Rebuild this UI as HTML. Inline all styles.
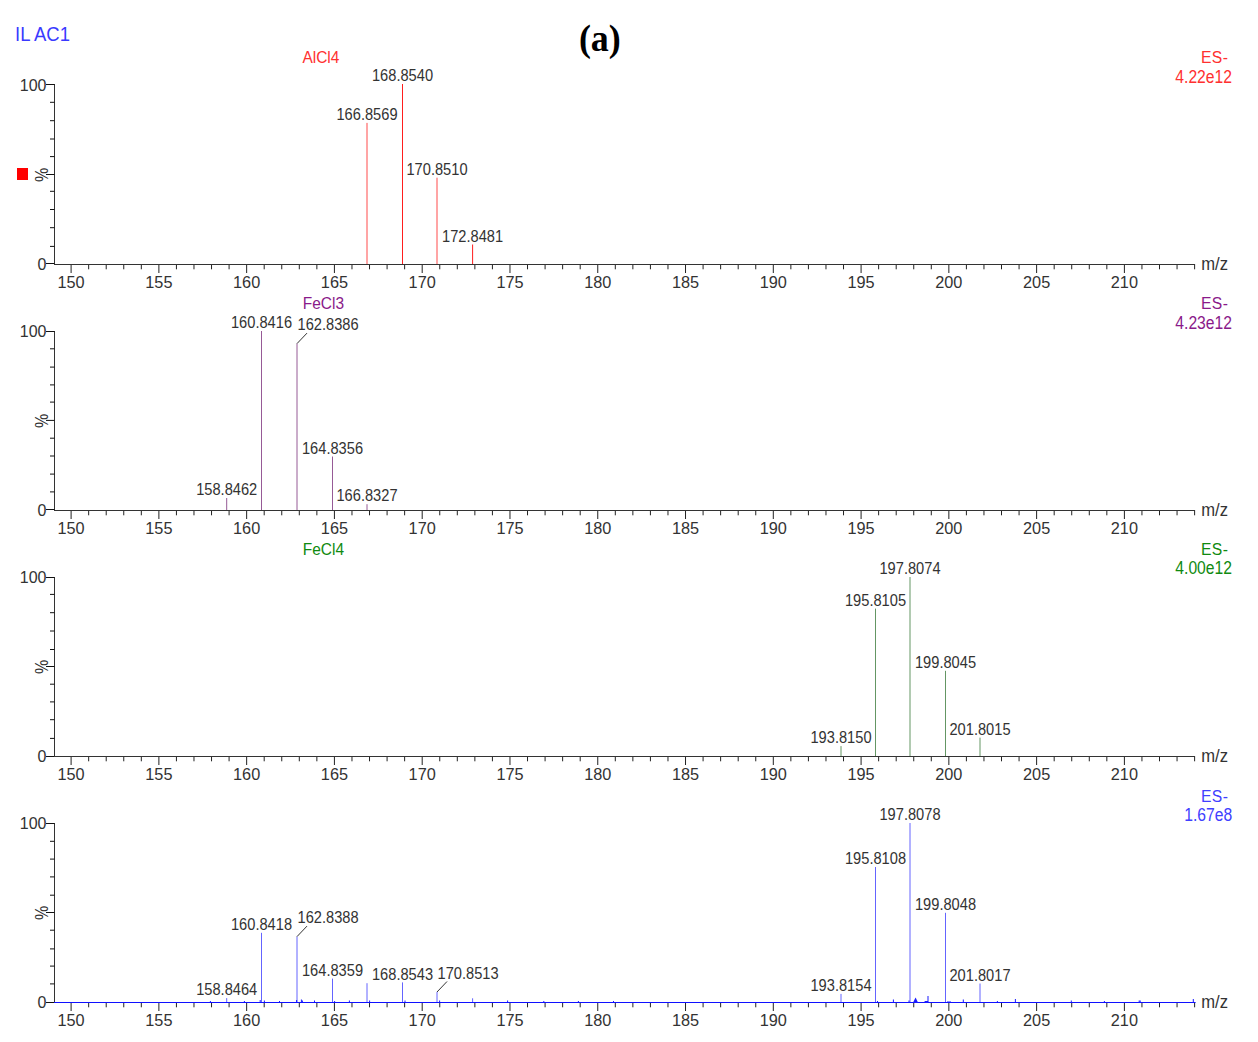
<!DOCTYPE html>
<html><head><meta charset="utf-8"><style>
html,body{margin:0;padding:0;background:#fff;width:1258px;height:1042px;overflow:hidden}
svg{display:block}
text{font-family:"Liberation Sans",sans-serif}
</style></head><body>
<svg width="1258" height="1042" viewBox="0 0 1258 1042">
<rect width="1258" height="1042" fill="#fff"/>
<g font-family="Liberation Sans, sans-serif">
<text transform="translate(15.10,40.50) scale(1.0,1.09)" font-size="18.5" fill="#3a3aff" text-anchor="start" >IL AC1</text>
<text transform="translate(578.9,50.5) scale(0.985,1.06)" style="font-family:'Liberation Serif',serif" font-weight="bold" font-size="36.5" fill="#000">(a)</text>
<rect x="17" y="168" width="11" height="12" fill="#ff0000"/>
<line x1="54.5" y1="84.0" x2="54.5" y2="265.0" stroke="#333" stroke-width="1"/>
<line x1="46" y1="84.50" x2="54.5" y2="84.50" stroke="#111" stroke-width="1"/>
<line x1="50" y1="102.30" x2="54.5" y2="102.30" stroke="#111" stroke-width="1"/>
<line x1="50" y1="120.70" x2="54.5" y2="120.70" stroke="#111" stroke-width="1"/>
<line x1="50" y1="139.00" x2="54.5" y2="139.00" stroke="#111" stroke-width="1"/>
<line x1="50" y1="156.60" x2="54.5" y2="156.60" stroke="#111" stroke-width="1"/>
<line x1="46" y1="174.50" x2="54.5" y2="174.50" stroke="#111" stroke-width="1"/>
<line x1="50" y1="191.30" x2="54.5" y2="191.30" stroke="#111" stroke-width="1"/>
<line x1="50" y1="209.50" x2="54.5" y2="209.50" stroke="#111" stroke-width="1"/>
<line x1="50" y1="227.70" x2="54.5" y2="227.70" stroke="#111" stroke-width="1"/>
<line x1="50" y1="246.40" x2="54.5" y2="246.40" stroke="#111" stroke-width="1"/>
<line x1="46" y1="263.50" x2="54.5" y2="263.50" stroke="#111" stroke-width="1"/>
<line x1="54.0" y1="264.5" x2="1195.12" y2="264.5" stroke="#333" stroke-width="1"/>
<line x1="71.10" y1="265.0" x2="71.10" y2="273.0" stroke="#222" stroke-width="1"/>
<text x="71.10" y="288.10" font-size="16.3" fill="#333333" text-anchor="middle" >150</text>
<line x1="88.66" y1="265.0" x2="88.66" y2="269.3" stroke="#222" stroke-width="1"/>
<line x1="106.21" y1="265.0" x2="106.21" y2="269.3" stroke="#222" stroke-width="1"/>
<line x1="123.76" y1="265.0" x2="123.76" y2="269.3" stroke="#222" stroke-width="1"/>
<line x1="141.32" y1="265.0" x2="141.32" y2="269.3" stroke="#222" stroke-width="1"/>
<line x1="158.88" y1="265.0" x2="158.88" y2="273.0" stroke="#222" stroke-width="1"/>
<text x="158.88" y="288.10" font-size="16.3" fill="#333333" text-anchor="middle" >155</text>
<line x1="176.43" y1="265.0" x2="176.43" y2="269.3" stroke="#222" stroke-width="1"/>
<line x1="193.98" y1="265.0" x2="193.98" y2="269.3" stroke="#222" stroke-width="1"/>
<line x1="211.54" y1="265.0" x2="211.54" y2="269.3" stroke="#222" stroke-width="1"/>
<line x1="229.09" y1="265.0" x2="229.09" y2="269.3" stroke="#222" stroke-width="1"/>
<line x1="246.65" y1="265.0" x2="246.65" y2="273.0" stroke="#222" stroke-width="1"/>
<text x="246.65" y="288.10" font-size="16.3" fill="#333333" text-anchor="middle" >160</text>
<line x1="264.20" y1="265.0" x2="264.20" y2="269.3" stroke="#222" stroke-width="1"/>
<line x1="281.76" y1="265.0" x2="281.76" y2="269.3" stroke="#222" stroke-width="1"/>
<line x1="299.31" y1="265.0" x2="299.31" y2="269.3" stroke="#222" stroke-width="1"/>
<line x1="316.87" y1="265.0" x2="316.87" y2="269.3" stroke="#222" stroke-width="1"/>
<line x1="334.42" y1="265.0" x2="334.42" y2="273.0" stroke="#222" stroke-width="1"/>
<text x="334.42" y="288.10" font-size="16.3" fill="#333333" text-anchor="middle" >165</text>
<line x1="351.98" y1="265.0" x2="351.98" y2="269.3" stroke="#222" stroke-width="1"/>
<line x1="369.53" y1="265.0" x2="369.53" y2="269.3" stroke="#222" stroke-width="1"/>
<line x1="387.09" y1="265.0" x2="387.09" y2="269.3" stroke="#222" stroke-width="1"/>
<line x1="404.64" y1="265.0" x2="404.64" y2="269.3" stroke="#222" stroke-width="1"/>
<line x1="422.20" y1="265.0" x2="422.20" y2="273.0" stroke="#222" stroke-width="1"/>
<text x="422.20" y="288.10" font-size="16.3" fill="#333333" text-anchor="middle" >170</text>
<line x1="439.75" y1="265.0" x2="439.75" y2="269.3" stroke="#222" stroke-width="1"/>
<line x1="457.31" y1="265.0" x2="457.31" y2="269.3" stroke="#222" stroke-width="1"/>
<line x1="474.87" y1="265.0" x2="474.87" y2="269.3" stroke="#222" stroke-width="1"/>
<line x1="492.42" y1="265.0" x2="492.42" y2="269.3" stroke="#222" stroke-width="1"/>
<line x1="509.98" y1="265.0" x2="509.98" y2="273.0" stroke="#222" stroke-width="1"/>
<text x="509.98" y="288.10" font-size="16.3" fill="#333333" text-anchor="middle" >175</text>
<line x1="527.53" y1="265.0" x2="527.53" y2="269.3" stroke="#222" stroke-width="1"/>
<line x1="545.09" y1="265.0" x2="545.09" y2="269.3" stroke="#222" stroke-width="1"/>
<line x1="562.64" y1="265.0" x2="562.64" y2="269.3" stroke="#222" stroke-width="1"/>
<line x1="580.19" y1="265.0" x2="580.19" y2="269.3" stroke="#222" stroke-width="1"/>
<line x1="597.75" y1="265.0" x2="597.75" y2="273.0" stroke="#222" stroke-width="1"/>
<text x="597.75" y="288.10" font-size="16.3" fill="#333333" text-anchor="middle" >180</text>
<line x1="615.31" y1="265.0" x2="615.31" y2="269.3" stroke="#222" stroke-width="1"/>
<line x1="632.86" y1="265.0" x2="632.86" y2="269.3" stroke="#222" stroke-width="1"/>
<line x1="650.41" y1="265.0" x2="650.41" y2="269.3" stroke="#222" stroke-width="1"/>
<line x1="667.97" y1="265.0" x2="667.97" y2="269.3" stroke="#222" stroke-width="1"/>
<line x1="685.52" y1="265.0" x2="685.52" y2="273.0" stroke="#222" stroke-width="1"/>
<text x="685.52" y="288.10" font-size="16.3" fill="#333333" text-anchor="middle" >185</text>
<line x1="703.08" y1="265.0" x2="703.08" y2="269.3" stroke="#222" stroke-width="1"/>
<line x1="720.63" y1="265.0" x2="720.63" y2="269.3" stroke="#222" stroke-width="1"/>
<line x1="738.19" y1="265.0" x2="738.19" y2="269.3" stroke="#222" stroke-width="1"/>
<line x1="755.75" y1="265.0" x2="755.75" y2="269.3" stroke="#222" stroke-width="1"/>
<line x1="773.30" y1="265.0" x2="773.30" y2="273.0" stroke="#222" stroke-width="1"/>
<text x="773.30" y="288.10" font-size="16.3" fill="#333333" text-anchor="middle" >190</text>
<line x1="790.86" y1="265.0" x2="790.86" y2="269.3" stroke="#222" stroke-width="1"/>
<line x1="808.41" y1="265.0" x2="808.41" y2="269.3" stroke="#222" stroke-width="1"/>
<line x1="825.97" y1="265.0" x2="825.97" y2="269.3" stroke="#222" stroke-width="1"/>
<line x1="843.52" y1="265.0" x2="843.52" y2="269.3" stroke="#222" stroke-width="1"/>
<line x1="861.08" y1="265.0" x2="861.08" y2="273.0" stroke="#222" stroke-width="1"/>
<text x="861.08" y="288.10" font-size="16.3" fill="#333333" text-anchor="middle" >195</text>
<line x1="878.63" y1="265.0" x2="878.63" y2="269.3" stroke="#222" stroke-width="1"/>
<line x1="896.19" y1="265.0" x2="896.19" y2="269.3" stroke="#222" stroke-width="1"/>
<line x1="913.74" y1="265.0" x2="913.74" y2="269.3" stroke="#222" stroke-width="1"/>
<line x1="931.29" y1="265.0" x2="931.29" y2="269.3" stroke="#222" stroke-width="1"/>
<line x1="948.85" y1="265.0" x2="948.85" y2="273.0" stroke="#222" stroke-width="1"/>
<text x="948.85" y="288.10" font-size="16.3" fill="#333333" text-anchor="middle" >200</text>
<line x1="966.40" y1="265.0" x2="966.40" y2="269.3" stroke="#222" stroke-width="1"/>
<line x1="983.96" y1="265.0" x2="983.96" y2="269.3" stroke="#222" stroke-width="1"/>
<line x1="1001.51" y1="265.0" x2="1001.51" y2="269.3" stroke="#222" stroke-width="1"/>
<line x1="1019.07" y1="265.0" x2="1019.07" y2="269.3" stroke="#222" stroke-width="1"/>
<line x1="1036.62" y1="265.0" x2="1036.62" y2="273.0" stroke="#222" stroke-width="1"/>
<text x="1036.62" y="288.10" font-size="16.3" fill="#333333" text-anchor="middle" >205</text>
<line x1="1054.18" y1="265.0" x2="1054.18" y2="269.3" stroke="#222" stroke-width="1"/>
<line x1="1071.73" y1="265.0" x2="1071.73" y2="269.3" stroke="#222" stroke-width="1"/>
<line x1="1089.29" y1="265.0" x2="1089.29" y2="269.3" stroke="#222" stroke-width="1"/>
<line x1="1106.84" y1="265.0" x2="1106.84" y2="269.3" stroke="#222" stroke-width="1"/>
<line x1="1124.40" y1="265.0" x2="1124.40" y2="273.0" stroke="#222" stroke-width="1"/>
<text x="1124.40" y="288.10" font-size="16.3" fill="#333333" text-anchor="middle" >210</text>
<line x1="1141.95" y1="265.0" x2="1141.95" y2="269.3" stroke="#222" stroke-width="1"/>
<line x1="1159.51" y1="265.0" x2="1159.51" y2="269.3" stroke="#222" stroke-width="1"/>
<line x1="1177.06" y1="265.0" x2="1177.06" y2="269.3" stroke="#222" stroke-width="1"/>
<line x1="1194.62" y1="265.0" x2="1194.62" y2="269.3" stroke="#222" stroke-width="1"/>
<text transform="translate(46.50,90.80) scale(1.0,1.06)" font-size="16" fill="#333333" text-anchor="end" >100</text>
<text transform="translate(46.50,269.80) scale(1.0,1.06)" font-size="16" fill="#333333" text-anchor="end" >0</text>
<text transform="translate(48.0,174.90) rotate(-90) scale(1,1.1)" font-size="16" fill="#333333" text-anchor="middle">%</text>
<text transform="translate(1201.20,270.00) scale(1.0,1.05)" font-size="16.6" fill="#333333" text-anchor="start" >m/z</text>
<text transform="translate(1201.00,62.50) scale(1.0,1.04)" font-size="15.7" fill="#ff3030" text-anchor="start" letter-spacing="0.4">ES-</text>
<text transform="translate(1175.30,82.70) scale(1.0,1.12)" font-size="15.7" fill="#ff3030" text-anchor="start" >4.22e12</text>
<text transform="translate(302.40,62.50) scale(1.0,1.12)" font-size="15.5" fill="#ff3030" text-anchor="start" >AlCl4</text>
<line x1="367.00" y1="264.00" x2="367.00" y2="122.90" stroke="#ff1e1e" stroke-width="1" stroke-opacity="0.8"/>
<text transform="translate(367.00,120.10) scale(1.0,1.142)" font-size="14.65" fill="#333333" text-anchor="middle" >166.8569</text>
<line x1="402.50" y1="264.00" x2="402.50" y2="84.00" stroke="#ff1e1e" stroke-width="1"/>
<text transform="translate(402.50,81.20) scale(1.0,1.142)" font-size="14.65" fill="#333333" text-anchor="middle" >168.8540</text>
<line x1="437.00" y1="264.00" x2="437.00" y2="177.70" stroke="#ff1e1e" stroke-width="1" stroke-opacity="0.8"/>
<text transform="translate(437.00,174.90) scale(1.0,1.142)" font-size="14.65" fill="#333333" text-anchor="middle" >170.8510</text>
<line x1="472.60" y1="264.00" x2="472.60" y2="244.50" stroke="#ff1e1e" stroke-width="1"/>
<text transform="translate(472.60,241.70) scale(1.0,1.142)" font-size="14.65" fill="#333333" text-anchor="middle" >172.8481</text>
<line x1="54.5" y1="331.0" x2="54.5" y2="511.0" stroke="#333" stroke-width="1"/>
<line x1="46" y1="331.50" x2="54.5" y2="331.50" stroke="#111" stroke-width="1"/>
<line x1="50" y1="348.80" x2="54.5" y2="348.80" stroke="#111" stroke-width="1"/>
<line x1="50" y1="367.10" x2="54.5" y2="367.10" stroke="#111" stroke-width="1"/>
<line x1="50" y1="384.90" x2="54.5" y2="384.90" stroke="#111" stroke-width="1"/>
<line x1="50" y1="402.10" x2="54.5" y2="402.10" stroke="#111" stroke-width="1"/>
<line x1="46" y1="420.40" x2="54.5" y2="420.40" stroke="#111" stroke-width="1"/>
<line x1="50" y1="438.20" x2="54.5" y2="438.20" stroke="#111" stroke-width="1"/>
<line x1="50" y1="456.00" x2="54.5" y2="456.00" stroke="#111" stroke-width="1"/>
<line x1="50" y1="474.10" x2="54.5" y2="474.10" stroke="#111" stroke-width="1"/>
<line x1="50" y1="491.90" x2="54.5" y2="491.90" stroke="#111" stroke-width="1"/>
<line x1="46" y1="509.50" x2="54.5" y2="509.50" stroke="#111" stroke-width="1"/>
<line x1="54.0" y1="510.5" x2="1195.12" y2="510.5" stroke="#333" stroke-width="1"/>
<line x1="71.10" y1="511.0" x2="71.10" y2="519.0" stroke="#222" stroke-width="1"/>
<text x="71.10" y="534.10" font-size="16.3" fill="#333333" text-anchor="middle" >150</text>
<line x1="88.66" y1="511.0" x2="88.66" y2="515.3" stroke="#222" stroke-width="1"/>
<line x1="106.21" y1="511.0" x2="106.21" y2="515.3" stroke="#222" stroke-width="1"/>
<line x1="123.76" y1="511.0" x2="123.76" y2="515.3" stroke="#222" stroke-width="1"/>
<line x1="141.32" y1="511.0" x2="141.32" y2="515.3" stroke="#222" stroke-width="1"/>
<line x1="158.88" y1="511.0" x2="158.88" y2="519.0" stroke="#222" stroke-width="1"/>
<text x="158.88" y="534.10" font-size="16.3" fill="#333333" text-anchor="middle" >155</text>
<line x1="176.43" y1="511.0" x2="176.43" y2="515.3" stroke="#222" stroke-width="1"/>
<line x1="193.98" y1="511.0" x2="193.98" y2="515.3" stroke="#222" stroke-width="1"/>
<line x1="211.54" y1="511.0" x2="211.54" y2="515.3" stroke="#222" stroke-width="1"/>
<line x1="229.09" y1="511.0" x2="229.09" y2="515.3" stroke="#222" stroke-width="1"/>
<line x1="246.65" y1="511.0" x2="246.65" y2="519.0" stroke="#222" stroke-width="1"/>
<text x="246.65" y="534.10" font-size="16.3" fill="#333333" text-anchor="middle" >160</text>
<line x1="264.20" y1="511.0" x2="264.20" y2="515.3" stroke="#222" stroke-width="1"/>
<line x1="281.76" y1="511.0" x2="281.76" y2="515.3" stroke="#222" stroke-width="1"/>
<line x1="299.31" y1="511.0" x2="299.31" y2="515.3" stroke="#222" stroke-width="1"/>
<line x1="316.87" y1="511.0" x2="316.87" y2="515.3" stroke="#222" stroke-width="1"/>
<line x1="334.42" y1="511.0" x2="334.42" y2="519.0" stroke="#222" stroke-width="1"/>
<text x="334.42" y="534.10" font-size="16.3" fill="#333333" text-anchor="middle" >165</text>
<line x1="351.98" y1="511.0" x2="351.98" y2="515.3" stroke="#222" stroke-width="1"/>
<line x1="369.53" y1="511.0" x2="369.53" y2="515.3" stroke="#222" stroke-width="1"/>
<line x1="387.09" y1="511.0" x2="387.09" y2="515.3" stroke="#222" stroke-width="1"/>
<line x1="404.64" y1="511.0" x2="404.64" y2="515.3" stroke="#222" stroke-width="1"/>
<line x1="422.20" y1="511.0" x2="422.20" y2="519.0" stroke="#222" stroke-width="1"/>
<text x="422.20" y="534.10" font-size="16.3" fill="#333333" text-anchor="middle" >170</text>
<line x1="439.75" y1="511.0" x2="439.75" y2="515.3" stroke="#222" stroke-width="1"/>
<line x1="457.31" y1="511.0" x2="457.31" y2="515.3" stroke="#222" stroke-width="1"/>
<line x1="474.87" y1="511.0" x2="474.87" y2="515.3" stroke="#222" stroke-width="1"/>
<line x1="492.42" y1="511.0" x2="492.42" y2="515.3" stroke="#222" stroke-width="1"/>
<line x1="509.98" y1="511.0" x2="509.98" y2="519.0" stroke="#222" stroke-width="1"/>
<text x="509.98" y="534.10" font-size="16.3" fill="#333333" text-anchor="middle" >175</text>
<line x1="527.53" y1="511.0" x2="527.53" y2="515.3" stroke="#222" stroke-width="1"/>
<line x1="545.09" y1="511.0" x2="545.09" y2="515.3" stroke="#222" stroke-width="1"/>
<line x1="562.64" y1="511.0" x2="562.64" y2="515.3" stroke="#222" stroke-width="1"/>
<line x1="580.19" y1="511.0" x2="580.19" y2="515.3" stroke="#222" stroke-width="1"/>
<line x1="597.75" y1="511.0" x2="597.75" y2="519.0" stroke="#222" stroke-width="1"/>
<text x="597.75" y="534.10" font-size="16.3" fill="#333333" text-anchor="middle" >180</text>
<line x1="615.31" y1="511.0" x2="615.31" y2="515.3" stroke="#222" stroke-width="1"/>
<line x1="632.86" y1="511.0" x2="632.86" y2="515.3" stroke="#222" stroke-width="1"/>
<line x1="650.41" y1="511.0" x2="650.41" y2="515.3" stroke="#222" stroke-width="1"/>
<line x1="667.97" y1="511.0" x2="667.97" y2="515.3" stroke="#222" stroke-width="1"/>
<line x1="685.52" y1="511.0" x2="685.52" y2="519.0" stroke="#222" stroke-width="1"/>
<text x="685.52" y="534.10" font-size="16.3" fill="#333333" text-anchor="middle" >185</text>
<line x1="703.08" y1="511.0" x2="703.08" y2="515.3" stroke="#222" stroke-width="1"/>
<line x1="720.63" y1="511.0" x2="720.63" y2="515.3" stroke="#222" stroke-width="1"/>
<line x1="738.19" y1="511.0" x2="738.19" y2="515.3" stroke="#222" stroke-width="1"/>
<line x1="755.75" y1="511.0" x2="755.75" y2="515.3" stroke="#222" stroke-width="1"/>
<line x1="773.30" y1="511.0" x2="773.30" y2="519.0" stroke="#222" stroke-width="1"/>
<text x="773.30" y="534.10" font-size="16.3" fill="#333333" text-anchor="middle" >190</text>
<line x1="790.86" y1="511.0" x2="790.86" y2="515.3" stroke="#222" stroke-width="1"/>
<line x1="808.41" y1="511.0" x2="808.41" y2="515.3" stroke="#222" stroke-width="1"/>
<line x1="825.97" y1="511.0" x2="825.97" y2="515.3" stroke="#222" stroke-width="1"/>
<line x1="843.52" y1="511.0" x2="843.52" y2="515.3" stroke="#222" stroke-width="1"/>
<line x1="861.08" y1="511.0" x2="861.08" y2="519.0" stroke="#222" stroke-width="1"/>
<text x="861.08" y="534.10" font-size="16.3" fill="#333333" text-anchor="middle" >195</text>
<line x1="878.63" y1="511.0" x2="878.63" y2="515.3" stroke="#222" stroke-width="1"/>
<line x1="896.19" y1="511.0" x2="896.19" y2="515.3" stroke="#222" stroke-width="1"/>
<line x1="913.74" y1="511.0" x2="913.74" y2="515.3" stroke="#222" stroke-width="1"/>
<line x1="931.29" y1="511.0" x2="931.29" y2="515.3" stroke="#222" stroke-width="1"/>
<line x1="948.85" y1="511.0" x2="948.85" y2="519.0" stroke="#222" stroke-width="1"/>
<text x="948.85" y="534.10" font-size="16.3" fill="#333333" text-anchor="middle" >200</text>
<line x1="966.40" y1="511.0" x2="966.40" y2="515.3" stroke="#222" stroke-width="1"/>
<line x1="983.96" y1="511.0" x2="983.96" y2="515.3" stroke="#222" stroke-width="1"/>
<line x1="1001.51" y1="511.0" x2="1001.51" y2="515.3" stroke="#222" stroke-width="1"/>
<line x1="1019.07" y1="511.0" x2="1019.07" y2="515.3" stroke="#222" stroke-width="1"/>
<line x1="1036.62" y1="511.0" x2="1036.62" y2="519.0" stroke="#222" stroke-width="1"/>
<text x="1036.62" y="534.10" font-size="16.3" fill="#333333" text-anchor="middle" >205</text>
<line x1="1054.18" y1="511.0" x2="1054.18" y2="515.3" stroke="#222" stroke-width="1"/>
<line x1="1071.73" y1="511.0" x2="1071.73" y2="515.3" stroke="#222" stroke-width="1"/>
<line x1="1089.29" y1="511.0" x2="1089.29" y2="515.3" stroke="#222" stroke-width="1"/>
<line x1="1106.84" y1="511.0" x2="1106.84" y2="515.3" stroke="#222" stroke-width="1"/>
<line x1="1124.40" y1="511.0" x2="1124.40" y2="519.0" stroke="#222" stroke-width="1"/>
<text x="1124.40" y="534.10" font-size="16.3" fill="#333333" text-anchor="middle" >210</text>
<line x1="1141.95" y1="511.0" x2="1141.95" y2="515.3" stroke="#222" stroke-width="1"/>
<line x1="1159.51" y1="511.0" x2="1159.51" y2="515.3" stroke="#222" stroke-width="1"/>
<line x1="1177.06" y1="511.0" x2="1177.06" y2="515.3" stroke="#222" stroke-width="1"/>
<line x1="1194.62" y1="511.0" x2="1194.62" y2="515.3" stroke="#222" stroke-width="1"/>
<text transform="translate(46.50,336.80) scale(1.0,1.06)" font-size="16" fill="#333333" text-anchor="end" >100</text>
<text transform="translate(46.50,515.80) scale(1.0,1.06)" font-size="16" fill="#333333" text-anchor="end" >0</text>
<text transform="translate(48.0,420.80) rotate(-90) scale(1,1.1)" font-size="16" fill="#333333" text-anchor="middle">%</text>
<text transform="translate(1201.20,516.00) scale(1.0,1.05)" font-size="16.6" fill="#333333" text-anchor="start" >m/z</text>
<text transform="translate(1201.00,308.90) scale(1.0,1.04)" font-size="15.7" fill="#8a1a8a" text-anchor="start" letter-spacing="0.4">ES-</text>
<text transform="translate(1175.30,328.60) scale(1.0,1.12)" font-size="15.7" fill="#8a1a8a" text-anchor="start" >4.23e12</text>
<text transform="translate(302.80,309.40) scale(1.0,1.12)" font-size="15.5" fill="#8a1a8a" text-anchor="start" >FeCl3</text>
<line x1="226.70" y1="510.00" x2="226.70" y2="498.00" stroke="#965a96" stroke-width="1"/>
<text transform="translate(226.70,495.20) scale(1.0,1.142)" font-size="14.65" fill="#333333" text-anchor="middle" >158.8462</text>
<line x1="261.50" y1="510.00" x2="261.50" y2="331.00" stroke="#965a96" stroke-width="1"/>
<text transform="translate(261.50,328.20) scale(1.0,1.142)" font-size="14.65" fill="#333333" text-anchor="middle" >160.8416</text>
<line x1="297.00" y1="510.00" x2="297.00" y2="343.60" stroke="#965a96" stroke-width="1" stroke-opacity="1.0"/>
<line x1="297.00" y1="343.60" x2="307.00" y2="333.10" stroke="#333" stroke-width="1"/>
<text transform="translate(297.50,330.10) scale(1.0,1.142)" font-size="14.65" fill="#333333" text-anchor="start" >162.8386</text>
<line x1="332.50" y1="510.00" x2="332.50" y2="456.50" stroke="#965a96" stroke-width="1"/>
<text transform="translate(332.50,453.70) scale(1.0,1.142)" font-size="14.65" fill="#333333" text-anchor="middle" >164.8356</text>
<line x1="367.00" y1="510.00" x2="367.00" y2="504.20" stroke="#965a96" stroke-width="1" stroke-opacity="1.0"/>
<text transform="translate(367.00,501.40) scale(1.0,1.142)" font-size="14.65" fill="#333333" text-anchor="middle" >166.8327</text>
<line x1="54.5" y1="577.0" x2="54.5" y2="757.0" stroke="#333" stroke-width="1"/>
<line x1="46" y1="577.50" x2="54.5" y2="577.50" stroke="#111" stroke-width="1"/>
<line x1="50" y1="594.40" x2="54.5" y2="594.40" stroke="#111" stroke-width="1"/>
<line x1="50" y1="612.70" x2="54.5" y2="612.70" stroke="#111" stroke-width="1"/>
<line x1="50" y1="631.00" x2="54.5" y2="631.00" stroke="#111" stroke-width="1"/>
<line x1="50" y1="649.50" x2="54.5" y2="649.50" stroke="#111" stroke-width="1"/>
<line x1="46" y1="666.50" x2="54.5" y2="666.50" stroke="#111" stroke-width="1"/>
<line x1="50" y1="684.20" x2="54.5" y2="684.20" stroke="#111" stroke-width="1"/>
<line x1="50" y1="701.90" x2="54.5" y2="701.90" stroke="#111" stroke-width="1"/>
<line x1="50" y1="719.70" x2="54.5" y2="719.70" stroke="#111" stroke-width="1"/>
<line x1="50" y1="738.40" x2="54.5" y2="738.40" stroke="#111" stroke-width="1"/>
<line x1="46" y1="756.50" x2="54.5" y2="756.50" stroke="#111" stroke-width="1"/>
<line x1="54.0" y1="756.5" x2="1195.12" y2="756.5" stroke="#333" stroke-width="1"/>
<line x1="71.10" y1="757.0" x2="71.10" y2="765.0" stroke="#222" stroke-width="1"/>
<text x="71.10" y="780.10" font-size="16.3" fill="#333333" text-anchor="middle" >150</text>
<line x1="88.66" y1="757.0" x2="88.66" y2="761.3" stroke="#222" stroke-width="1"/>
<line x1="106.21" y1="757.0" x2="106.21" y2="761.3" stroke="#222" stroke-width="1"/>
<line x1="123.76" y1="757.0" x2="123.76" y2="761.3" stroke="#222" stroke-width="1"/>
<line x1="141.32" y1="757.0" x2="141.32" y2="761.3" stroke="#222" stroke-width="1"/>
<line x1="158.88" y1="757.0" x2="158.88" y2="765.0" stroke="#222" stroke-width="1"/>
<text x="158.88" y="780.10" font-size="16.3" fill="#333333" text-anchor="middle" >155</text>
<line x1="176.43" y1="757.0" x2="176.43" y2="761.3" stroke="#222" stroke-width="1"/>
<line x1="193.98" y1="757.0" x2="193.98" y2="761.3" stroke="#222" stroke-width="1"/>
<line x1="211.54" y1="757.0" x2="211.54" y2="761.3" stroke="#222" stroke-width="1"/>
<line x1="229.09" y1="757.0" x2="229.09" y2="761.3" stroke="#222" stroke-width="1"/>
<line x1="246.65" y1="757.0" x2="246.65" y2="765.0" stroke="#222" stroke-width="1"/>
<text x="246.65" y="780.10" font-size="16.3" fill="#333333" text-anchor="middle" >160</text>
<line x1="264.20" y1="757.0" x2="264.20" y2="761.3" stroke="#222" stroke-width="1"/>
<line x1="281.76" y1="757.0" x2="281.76" y2="761.3" stroke="#222" stroke-width="1"/>
<line x1="299.31" y1="757.0" x2="299.31" y2="761.3" stroke="#222" stroke-width="1"/>
<line x1="316.87" y1="757.0" x2="316.87" y2="761.3" stroke="#222" stroke-width="1"/>
<line x1="334.42" y1="757.0" x2="334.42" y2="765.0" stroke="#222" stroke-width="1"/>
<text x="334.42" y="780.10" font-size="16.3" fill="#333333" text-anchor="middle" >165</text>
<line x1="351.98" y1="757.0" x2="351.98" y2="761.3" stroke="#222" stroke-width="1"/>
<line x1="369.53" y1="757.0" x2="369.53" y2="761.3" stroke="#222" stroke-width="1"/>
<line x1="387.09" y1="757.0" x2="387.09" y2="761.3" stroke="#222" stroke-width="1"/>
<line x1="404.64" y1="757.0" x2="404.64" y2="761.3" stroke="#222" stroke-width="1"/>
<line x1="422.20" y1="757.0" x2="422.20" y2="765.0" stroke="#222" stroke-width="1"/>
<text x="422.20" y="780.10" font-size="16.3" fill="#333333" text-anchor="middle" >170</text>
<line x1="439.75" y1="757.0" x2="439.75" y2="761.3" stroke="#222" stroke-width="1"/>
<line x1="457.31" y1="757.0" x2="457.31" y2="761.3" stroke="#222" stroke-width="1"/>
<line x1="474.87" y1="757.0" x2="474.87" y2="761.3" stroke="#222" stroke-width="1"/>
<line x1="492.42" y1="757.0" x2="492.42" y2="761.3" stroke="#222" stroke-width="1"/>
<line x1="509.98" y1="757.0" x2="509.98" y2="765.0" stroke="#222" stroke-width="1"/>
<text x="509.98" y="780.10" font-size="16.3" fill="#333333" text-anchor="middle" >175</text>
<line x1="527.53" y1="757.0" x2="527.53" y2="761.3" stroke="#222" stroke-width="1"/>
<line x1="545.09" y1="757.0" x2="545.09" y2="761.3" stroke="#222" stroke-width="1"/>
<line x1="562.64" y1="757.0" x2="562.64" y2="761.3" stroke="#222" stroke-width="1"/>
<line x1="580.19" y1="757.0" x2="580.19" y2="761.3" stroke="#222" stroke-width="1"/>
<line x1="597.75" y1="757.0" x2="597.75" y2="765.0" stroke="#222" stroke-width="1"/>
<text x="597.75" y="780.10" font-size="16.3" fill="#333333" text-anchor="middle" >180</text>
<line x1="615.31" y1="757.0" x2="615.31" y2="761.3" stroke="#222" stroke-width="1"/>
<line x1="632.86" y1="757.0" x2="632.86" y2="761.3" stroke="#222" stroke-width="1"/>
<line x1="650.41" y1="757.0" x2="650.41" y2="761.3" stroke="#222" stroke-width="1"/>
<line x1="667.97" y1="757.0" x2="667.97" y2="761.3" stroke="#222" stroke-width="1"/>
<line x1="685.52" y1="757.0" x2="685.52" y2="765.0" stroke="#222" stroke-width="1"/>
<text x="685.52" y="780.10" font-size="16.3" fill="#333333" text-anchor="middle" >185</text>
<line x1="703.08" y1="757.0" x2="703.08" y2="761.3" stroke="#222" stroke-width="1"/>
<line x1="720.63" y1="757.0" x2="720.63" y2="761.3" stroke="#222" stroke-width="1"/>
<line x1="738.19" y1="757.0" x2="738.19" y2="761.3" stroke="#222" stroke-width="1"/>
<line x1="755.75" y1="757.0" x2="755.75" y2="761.3" stroke="#222" stroke-width="1"/>
<line x1="773.30" y1="757.0" x2="773.30" y2="765.0" stroke="#222" stroke-width="1"/>
<text x="773.30" y="780.10" font-size="16.3" fill="#333333" text-anchor="middle" >190</text>
<line x1="790.86" y1="757.0" x2="790.86" y2="761.3" stroke="#222" stroke-width="1"/>
<line x1="808.41" y1="757.0" x2="808.41" y2="761.3" stroke="#222" stroke-width="1"/>
<line x1="825.97" y1="757.0" x2="825.97" y2="761.3" stroke="#222" stroke-width="1"/>
<line x1="843.52" y1="757.0" x2="843.52" y2="761.3" stroke="#222" stroke-width="1"/>
<line x1="861.08" y1="757.0" x2="861.08" y2="765.0" stroke="#222" stroke-width="1"/>
<text x="861.08" y="780.10" font-size="16.3" fill="#333333" text-anchor="middle" >195</text>
<line x1="878.63" y1="757.0" x2="878.63" y2="761.3" stroke="#222" stroke-width="1"/>
<line x1="896.19" y1="757.0" x2="896.19" y2="761.3" stroke="#222" stroke-width="1"/>
<line x1="913.74" y1="757.0" x2="913.74" y2="761.3" stroke="#222" stroke-width="1"/>
<line x1="931.29" y1="757.0" x2="931.29" y2="761.3" stroke="#222" stroke-width="1"/>
<line x1="948.85" y1="757.0" x2="948.85" y2="765.0" stroke="#222" stroke-width="1"/>
<text x="948.85" y="780.10" font-size="16.3" fill="#333333" text-anchor="middle" >200</text>
<line x1="966.40" y1="757.0" x2="966.40" y2="761.3" stroke="#222" stroke-width="1"/>
<line x1="983.96" y1="757.0" x2="983.96" y2="761.3" stroke="#222" stroke-width="1"/>
<line x1="1001.51" y1="757.0" x2="1001.51" y2="761.3" stroke="#222" stroke-width="1"/>
<line x1="1019.07" y1="757.0" x2="1019.07" y2="761.3" stroke="#222" stroke-width="1"/>
<line x1="1036.62" y1="757.0" x2="1036.62" y2="765.0" stroke="#222" stroke-width="1"/>
<text x="1036.62" y="780.10" font-size="16.3" fill="#333333" text-anchor="middle" >205</text>
<line x1="1054.18" y1="757.0" x2="1054.18" y2="761.3" stroke="#222" stroke-width="1"/>
<line x1="1071.73" y1="757.0" x2="1071.73" y2="761.3" stroke="#222" stroke-width="1"/>
<line x1="1089.29" y1="757.0" x2="1089.29" y2="761.3" stroke="#222" stroke-width="1"/>
<line x1="1106.84" y1="757.0" x2="1106.84" y2="761.3" stroke="#222" stroke-width="1"/>
<line x1="1124.40" y1="757.0" x2="1124.40" y2="765.0" stroke="#222" stroke-width="1"/>
<text x="1124.40" y="780.10" font-size="16.3" fill="#333333" text-anchor="middle" >210</text>
<line x1="1141.95" y1="757.0" x2="1141.95" y2="761.3" stroke="#222" stroke-width="1"/>
<line x1="1159.51" y1="757.0" x2="1159.51" y2="761.3" stroke="#222" stroke-width="1"/>
<line x1="1177.06" y1="757.0" x2="1177.06" y2="761.3" stroke="#222" stroke-width="1"/>
<line x1="1194.62" y1="757.0" x2="1194.62" y2="761.3" stroke="#222" stroke-width="1"/>
<text transform="translate(46.50,582.80) scale(1.0,1.06)" font-size="16" fill="#333333" text-anchor="end" >100</text>
<text transform="translate(46.50,761.80) scale(1.0,1.06)" font-size="16" fill="#333333" text-anchor="end" >0</text>
<text transform="translate(48.0,666.90) rotate(-90) scale(1,1.1)" font-size="16" fill="#333333" text-anchor="middle">%</text>
<text transform="translate(1201.20,762.00) scale(1.0,1.05)" font-size="16.6" fill="#333333" text-anchor="start" >m/z</text>
<text transform="translate(1201.00,554.70) scale(1.0,1.04)" font-size="15.7" fill="#108a10" text-anchor="start" letter-spacing="0.4">ES-</text>
<text transform="translate(1175.30,574.40) scale(1.0,1.12)" font-size="15.7" fill="#108a10" text-anchor="start" >4.00e12</text>
<text transform="translate(302.70,554.50) scale(1.0,1.12)" font-size="15.5" fill="#108a10" text-anchor="start" >FeCl4</text>
<line x1="841.00" y1="756.00" x2="841.00" y2="746.10" stroke="#649664" stroke-width="1" stroke-opacity="1.0"/>
<text transform="translate(841.00,743.30) scale(1.0,1.142)" font-size="14.65" fill="#333333" text-anchor="middle" >193.8150</text>
<line x1="875.50" y1="756.00" x2="875.50" y2="608.60" stroke="#649664" stroke-width="1"/>
<text transform="translate(875.50,605.80) scale(1.0,1.142)" font-size="14.65" fill="#333333" text-anchor="middle" >195.8105</text>
<line x1="910.00" y1="756.00" x2="910.00" y2="577.00" stroke="#649664" stroke-width="1" stroke-opacity="1.0"/>
<text transform="translate(910.00,574.20) scale(1.0,1.142)" font-size="14.65" fill="#333333" text-anchor="middle" >197.8074</text>
<line x1="945.50" y1="756.00" x2="945.50" y2="670.80" stroke="#649664" stroke-width="1"/>
<text transform="translate(945.50,668.00) scale(1.0,1.142)" font-size="14.65" fill="#333333" text-anchor="middle" >199.8045</text>
<line x1="980.00" y1="756.00" x2="980.00" y2="737.60" stroke="#649664" stroke-width="1" stroke-opacity="1.0"/>
<text transform="translate(980.00,734.80) scale(1.0,1.142)" font-size="14.65" fill="#333333" text-anchor="middle" >201.8015</text>
<line x1="54.5" y1="823.0" x2="54.5" y2="1003.0" stroke="#333" stroke-width="1"/>
<line x1="46" y1="823.50" x2="54.5" y2="823.50" stroke="#111" stroke-width="1"/>
<line x1="50" y1="841.30" x2="54.5" y2="841.30" stroke="#111" stroke-width="1"/>
<line x1="50" y1="859.10" x2="54.5" y2="859.10" stroke="#111" stroke-width="1"/>
<line x1="50" y1="876.90" x2="54.5" y2="876.90" stroke="#111" stroke-width="1"/>
<line x1="50" y1="895.20" x2="54.5" y2="895.20" stroke="#111" stroke-width="1"/>
<line x1="46" y1="912.50" x2="54.5" y2="912.50" stroke="#111" stroke-width="1"/>
<line x1="50" y1="930.20" x2="54.5" y2="930.20" stroke="#111" stroke-width="1"/>
<line x1="50" y1="948.90" x2="54.5" y2="948.90" stroke="#111" stroke-width="1"/>
<line x1="50" y1="966.10" x2="54.5" y2="966.10" stroke="#111" stroke-width="1"/>
<line x1="50" y1="983.90" x2="54.5" y2="983.90" stroke="#111" stroke-width="1"/>
<line x1="46" y1="1002.50" x2="54.5" y2="1002.50" stroke="#111" stroke-width="1"/>
<line x1="54.0" y1="1002.5" x2="1195.12" y2="1002.5" stroke="#333" stroke-width="1"/>
<line x1="71.10" y1="1003.0" x2="71.10" y2="1011.0" stroke="#222" stroke-width="1"/>
<text x="71.10" y="1026.10" font-size="16.3" fill="#333333" text-anchor="middle" >150</text>
<line x1="88.66" y1="1003.0" x2="88.66" y2="1007.3" stroke="#222" stroke-width="1"/>
<line x1="106.21" y1="1003.0" x2="106.21" y2="1007.3" stroke="#222" stroke-width="1"/>
<line x1="123.76" y1="1003.0" x2="123.76" y2="1007.3" stroke="#222" stroke-width="1"/>
<line x1="141.32" y1="1003.0" x2="141.32" y2="1007.3" stroke="#222" stroke-width="1"/>
<line x1="158.88" y1="1003.0" x2="158.88" y2="1011.0" stroke="#222" stroke-width="1"/>
<text x="158.88" y="1026.10" font-size="16.3" fill="#333333" text-anchor="middle" >155</text>
<line x1="176.43" y1="1003.0" x2="176.43" y2="1007.3" stroke="#222" stroke-width="1"/>
<line x1="193.98" y1="1003.0" x2="193.98" y2="1007.3" stroke="#222" stroke-width="1"/>
<line x1="211.54" y1="1003.0" x2="211.54" y2="1007.3" stroke="#222" stroke-width="1"/>
<line x1="229.09" y1="1003.0" x2="229.09" y2="1007.3" stroke="#222" stroke-width="1"/>
<line x1="246.65" y1="1003.0" x2="246.65" y2="1011.0" stroke="#222" stroke-width="1"/>
<text x="246.65" y="1026.10" font-size="16.3" fill="#333333" text-anchor="middle" >160</text>
<line x1="264.20" y1="1003.0" x2="264.20" y2="1007.3" stroke="#222" stroke-width="1"/>
<line x1="281.76" y1="1003.0" x2="281.76" y2="1007.3" stroke="#222" stroke-width="1"/>
<line x1="299.31" y1="1003.0" x2="299.31" y2="1007.3" stroke="#222" stroke-width="1"/>
<line x1="316.87" y1="1003.0" x2="316.87" y2="1007.3" stroke="#222" stroke-width="1"/>
<line x1="334.42" y1="1003.0" x2="334.42" y2="1011.0" stroke="#222" stroke-width="1"/>
<text x="334.42" y="1026.10" font-size="16.3" fill="#333333" text-anchor="middle" >165</text>
<line x1="351.98" y1="1003.0" x2="351.98" y2="1007.3" stroke="#222" stroke-width="1"/>
<line x1="369.53" y1="1003.0" x2="369.53" y2="1007.3" stroke="#222" stroke-width="1"/>
<line x1="387.09" y1="1003.0" x2="387.09" y2="1007.3" stroke="#222" stroke-width="1"/>
<line x1="404.64" y1="1003.0" x2="404.64" y2="1007.3" stroke="#222" stroke-width="1"/>
<line x1="422.20" y1="1003.0" x2="422.20" y2="1011.0" stroke="#222" stroke-width="1"/>
<text x="422.20" y="1026.10" font-size="16.3" fill="#333333" text-anchor="middle" >170</text>
<line x1="439.75" y1="1003.0" x2="439.75" y2="1007.3" stroke="#222" stroke-width="1"/>
<line x1="457.31" y1="1003.0" x2="457.31" y2="1007.3" stroke="#222" stroke-width="1"/>
<line x1="474.87" y1="1003.0" x2="474.87" y2="1007.3" stroke="#222" stroke-width="1"/>
<line x1="492.42" y1="1003.0" x2="492.42" y2="1007.3" stroke="#222" stroke-width="1"/>
<line x1="509.98" y1="1003.0" x2="509.98" y2="1011.0" stroke="#222" stroke-width="1"/>
<text x="509.98" y="1026.10" font-size="16.3" fill="#333333" text-anchor="middle" >175</text>
<line x1="527.53" y1="1003.0" x2="527.53" y2="1007.3" stroke="#222" stroke-width="1"/>
<line x1="545.09" y1="1003.0" x2="545.09" y2="1007.3" stroke="#222" stroke-width="1"/>
<line x1="562.64" y1="1003.0" x2="562.64" y2="1007.3" stroke="#222" stroke-width="1"/>
<line x1="580.19" y1="1003.0" x2="580.19" y2="1007.3" stroke="#222" stroke-width="1"/>
<line x1="597.75" y1="1003.0" x2="597.75" y2="1011.0" stroke="#222" stroke-width="1"/>
<text x="597.75" y="1026.10" font-size="16.3" fill="#333333" text-anchor="middle" >180</text>
<line x1="615.31" y1="1003.0" x2="615.31" y2="1007.3" stroke="#222" stroke-width="1"/>
<line x1="632.86" y1="1003.0" x2="632.86" y2="1007.3" stroke="#222" stroke-width="1"/>
<line x1="650.41" y1="1003.0" x2="650.41" y2="1007.3" stroke="#222" stroke-width="1"/>
<line x1="667.97" y1="1003.0" x2="667.97" y2="1007.3" stroke="#222" stroke-width="1"/>
<line x1="685.52" y1="1003.0" x2="685.52" y2="1011.0" stroke="#222" stroke-width="1"/>
<text x="685.52" y="1026.10" font-size="16.3" fill="#333333" text-anchor="middle" >185</text>
<line x1="703.08" y1="1003.0" x2="703.08" y2="1007.3" stroke="#222" stroke-width="1"/>
<line x1="720.63" y1="1003.0" x2="720.63" y2="1007.3" stroke="#222" stroke-width="1"/>
<line x1="738.19" y1="1003.0" x2="738.19" y2="1007.3" stroke="#222" stroke-width="1"/>
<line x1="755.75" y1="1003.0" x2="755.75" y2="1007.3" stroke="#222" stroke-width="1"/>
<line x1="773.30" y1="1003.0" x2="773.30" y2="1011.0" stroke="#222" stroke-width="1"/>
<text x="773.30" y="1026.10" font-size="16.3" fill="#333333" text-anchor="middle" >190</text>
<line x1="790.86" y1="1003.0" x2="790.86" y2="1007.3" stroke="#222" stroke-width="1"/>
<line x1="808.41" y1="1003.0" x2="808.41" y2="1007.3" stroke="#222" stroke-width="1"/>
<line x1="825.97" y1="1003.0" x2="825.97" y2="1007.3" stroke="#222" stroke-width="1"/>
<line x1="843.52" y1="1003.0" x2="843.52" y2="1007.3" stroke="#222" stroke-width="1"/>
<line x1="861.08" y1="1003.0" x2="861.08" y2="1011.0" stroke="#222" stroke-width="1"/>
<text x="861.08" y="1026.10" font-size="16.3" fill="#333333" text-anchor="middle" >195</text>
<line x1="878.63" y1="1003.0" x2="878.63" y2="1007.3" stroke="#222" stroke-width="1"/>
<line x1="896.19" y1="1003.0" x2="896.19" y2="1007.3" stroke="#222" stroke-width="1"/>
<line x1="913.74" y1="1003.0" x2="913.74" y2="1007.3" stroke="#222" stroke-width="1"/>
<line x1="931.29" y1="1003.0" x2="931.29" y2="1007.3" stroke="#222" stroke-width="1"/>
<line x1="948.85" y1="1003.0" x2="948.85" y2="1011.0" stroke="#222" stroke-width="1"/>
<text x="948.85" y="1026.10" font-size="16.3" fill="#333333" text-anchor="middle" >200</text>
<line x1="966.40" y1="1003.0" x2="966.40" y2="1007.3" stroke="#222" stroke-width="1"/>
<line x1="983.96" y1="1003.0" x2="983.96" y2="1007.3" stroke="#222" stroke-width="1"/>
<line x1="1001.51" y1="1003.0" x2="1001.51" y2="1007.3" stroke="#222" stroke-width="1"/>
<line x1="1019.07" y1="1003.0" x2="1019.07" y2="1007.3" stroke="#222" stroke-width="1"/>
<line x1="1036.62" y1="1003.0" x2="1036.62" y2="1011.0" stroke="#222" stroke-width="1"/>
<text x="1036.62" y="1026.10" font-size="16.3" fill="#333333" text-anchor="middle" >205</text>
<line x1="1054.18" y1="1003.0" x2="1054.18" y2="1007.3" stroke="#222" stroke-width="1"/>
<line x1="1071.73" y1="1003.0" x2="1071.73" y2="1007.3" stroke="#222" stroke-width="1"/>
<line x1="1089.29" y1="1003.0" x2="1089.29" y2="1007.3" stroke="#222" stroke-width="1"/>
<line x1="1106.84" y1="1003.0" x2="1106.84" y2="1007.3" stroke="#222" stroke-width="1"/>
<line x1="1124.40" y1="1003.0" x2="1124.40" y2="1011.0" stroke="#222" stroke-width="1"/>
<text x="1124.40" y="1026.10" font-size="16.3" fill="#333333" text-anchor="middle" >210</text>
<line x1="1141.95" y1="1003.0" x2="1141.95" y2="1007.3" stroke="#222" stroke-width="1"/>
<line x1="1159.51" y1="1003.0" x2="1159.51" y2="1007.3" stroke="#222" stroke-width="1"/>
<line x1="1177.06" y1="1003.0" x2="1177.06" y2="1007.3" stroke="#222" stroke-width="1"/>
<line x1="1194.62" y1="1003.0" x2="1194.62" y2="1007.3" stroke="#222" stroke-width="1"/>
<text transform="translate(46.50,828.80) scale(1.0,1.06)" font-size="16" fill="#333333" text-anchor="end" >100</text>
<text transform="translate(46.50,1007.80) scale(1.0,1.06)" font-size="16" fill="#333333" text-anchor="end" >0</text>
<text transform="translate(48.0,912.90) rotate(-90) scale(1,1.1)" font-size="16" fill="#333333" text-anchor="middle">%</text>
<text transform="translate(1201.20,1008.00) scale(1.0,1.05)" font-size="16.6" fill="#333333" text-anchor="start" >m/z</text>
<text transform="translate(1201.00,801.60) scale(1.0,1.04)" font-size="15.7" fill="#4040ff" text-anchor="start" letter-spacing="0.4">ES-</text>
<text transform="translate(1184.20,820.60) scale(1.0,1.12)" font-size="15.7" fill="#4040ff" text-anchor="start" >1.67e8</text>
<line x1="226.70" y1="1002.00" x2="226.70" y2="998.10" stroke="#6464ff" stroke-width="1"/>
<text transform="translate(226.70,995.30) scale(1.0,1.142)" font-size="14.65" fill="#333333" text-anchor="middle" >158.8464</text>
<line x1="261.50" y1="1002.00" x2="261.50" y2="932.80" stroke="#6464ff" stroke-width="1"/>
<text transform="translate(261.50,930.00) scale(1.0,1.142)" font-size="14.65" fill="#333333" text-anchor="middle" >160.8418</text>
<line x1="297.00" y1="1002.00" x2="297.00" y2="936.60" stroke="#6464ff" stroke-width="1" stroke-opacity="1.0"/>
<line x1="297.00" y1="936.60" x2="307.00" y2="926.10" stroke="#333" stroke-width="1"/>
<text transform="translate(297.50,923.10) scale(1.0,1.142)" font-size="14.65" fill="#333333" text-anchor="start" >162.8388</text>
<line x1="332.50" y1="1002.00" x2="332.50" y2="978.60" stroke="#6464ff" stroke-width="1"/>
<text transform="translate(332.50,975.80) scale(1.0,1.142)" font-size="14.65" fill="#333333" text-anchor="middle" >164.8359</text>
<line x1="367.00" y1="1002.00" x2="367.00" y2="983.20" stroke="#6464ff" stroke-width="1" stroke-opacity="1.0"/>
<line x1="402.50" y1="1002.00" x2="402.50" y2="982.40" stroke="#6464ff" stroke-width="1"/>
<text transform="translate(402.50,979.60) scale(1.0,1.142)" font-size="14.65" fill="#333333" text-anchor="middle" >168.8543</text>
<line x1="437.00" y1="1002.00" x2="437.00" y2="992.00" stroke="#6464ff" stroke-width="1" stroke-opacity="1.0"/>
<line x1="437.00" y1="992.00" x2="447.00" y2="981.50" stroke="#333" stroke-width="1"/>
<text transform="translate(437.50,978.50) scale(1.0,1.142)" font-size="14.65" fill="#333333" text-anchor="start" >170.8513</text>
<line x1="472.60" y1="1002.00" x2="472.60" y2="998.30" stroke="#6464ff" stroke-width="1"/>
<line x1="841.00" y1="1002.00" x2="841.00" y2="993.90" stroke="#6464ff" stroke-width="1" stroke-opacity="1.0"/>
<text transform="translate(841.00,991.10) scale(1.0,1.142)" font-size="14.65" fill="#333333" text-anchor="middle" >193.8154</text>
<line x1="875.50" y1="1002.00" x2="875.50" y2="867.00" stroke="#6464ff" stroke-width="1"/>
<text transform="translate(875.50,864.20) scale(1.0,1.142)" font-size="14.65" fill="#333333" text-anchor="middle" >195.8108</text>
<line x1="910.00" y1="1002.00" x2="910.00" y2="823.00" stroke="#6464ff" stroke-width="1" stroke-opacity="1.0"/>
<text transform="translate(910.00,820.20) scale(1.0,1.142)" font-size="14.65" fill="#333333" text-anchor="middle" >197.8078</text>
<line x1="945.50" y1="1002.00" x2="945.50" y2="912.80" stroke="#6464ff" stroke-width="1"/>
<text transform="translate(945.50,910.00) scale(1.0,1.142)" font-size="14.65" fill="#333333" text-anchor="middle" >199.8048</text>
<line x1="980.00" y1="1002.00" x2="980.00" y2="983.50" stroke="#6464ff" stroke-width="1" stroke-opacity="1.0"/>
<text transform="translate(980.00,980.70) scale(1.0,1.142)" font-size="14.65" fill="#333333" text-anchor="middle" >201.8017</text>
<line x1="210.4" y1="1002.5" x2="210.4" y2="1001.00" stroke="#1a1aff" stroke-width="1"/>
<line x1="244.4" y1="1002.5" x2="244.4" y2="1001.00" stroke="#1a1aff" stroke-width="1"/>
<line x1="260.2" y1="1002.5" x2="260.2" y2="1000.00" stroke="#1a1aff" stroke-width="1"/>
<line x1="264.4" y1="1002.5" x2="264.4" y2="1000.50" stroke="#1a1aff" stroke-width="1"/>
<line x1="279.5" y1="1002.5" x2="279.5" y2="1001.00" stroke="#1a1aff" stroke-width="1"/>
<line x1="296.6" y1="1002.5" x2="296.6" y2="1000.00" stroke="#1a1aff" stroke-width="1"/>
<line x1="301.4" y1="1002.5" x2="301.4" y2="999.50" stroke="#1a1aff" stroke-width="1"/>
<line x1="302.4" y1="1002.5" x2="302.4" y2="1000.50" stroke="#1a1aff" stroke-width="1"/>
<line x1="314.5" y1="1002.5" x2="314.5" y2="1000.50" stroke="#1a1aff" stroke-width="1"/>
<line x1="334.6" y1="1002.5" x2="334.6" y2="1001.00" stroke="#1a1aff" stroke-width="1"/>
<line x1="349.4" y1="1002.5" x2="349.4" y2="1000.50" stroke="#1a1aff" stroke-width="1"/>
<line x1="369.6" y1="1002.5" x2="369.6" y2="1000.50" stroke="#1a1aff" stroke-width="1"/>
<line x1="405" y1="1002.5" x2="405" y2="1000.50" stroke="#1a1aff" stroke-width="1"/>
<line x1="439.6" y1="1002.5" x2="439.6" y2="1000.50" stroke="#1a1aff" stroke-width="1"/>
<line x1="507.6" y1="1002.5" x2="507.6" y2="1000.50" stroke="#1a1aff" stroke-width="1"/>
<line x1="543.8" y1="1002.5" x2="543.8" y2="1001.00" stroke="#1a1aff" stroke-width="1"/>
<line x1="578.4" y1="1002.5" x2="578.4" y2="1001.00" stroke="#1a1aff" stroke-width="1"/>
<line x1="613.5" y1="1002.5" x2="613.5" y2="1001.00" stroke="#1a1aff" stroke-width="1"/>
<line x1="877.5" y1="1002.5" x2="877.5" y2="1001.00" stroke="#1a1aff" stroke-width="1"/>
<line x1="893.4" y1="1002.5" x2="893.4" y2="999.50" stroke="#1a1aff" stroke-width="1"/>
<line x1="909" y1="1002.5" x2="909" y2="1000.50" stroke="#1a1aff" stroke-width="1"/>
<line x1="926.2" y1="1002.5" x2="926.2" y2="1001.00" stroke="#1a1aff" stroke-width="1"/>
<line x1="928.0" y1="1002.5" x2="928.0" y2="996.00" stroke="#1a1aff" stroke-width="1"/>
<line x1="948" y1="1002.5" x2="948" y2="1001.00" stroke="#1a1aff" stroke-width="1"/>
<line x1="950" y1="1002.5" x2="950" y2="1001.00" stroke="#1a1aff" stroke-width="1"/>
<line x1="963.3" y1="1002.5" x2="963.3" y2="999.50" stroke="#1a1aff" stroke-width="1"/>
<line x1="997.4" y1="1002.5" x2="997.4" y2="1001.00" stroke="#1a1aff" stroke-width="1"/>
<line x1="1015.4" y1="1002.5" x2="1015.4" y2="999.00" stroke="#1a1aff" stroke-width="1"/>
<line x1="1071.3" y1="1002.5" x2="1071.3" y2="1000.50" stroke="#1a1aff" stroke-width="1"/>
<line x1="1104.4" y1="1002.5" x2="1104.4" y2="1001.00" stroke="#1a1aff" stroke-width="1"/>
<line x1="1139.2" y1="1002.5" x2="1139.2" y2="1000.50" stroke="#1a1aff" stroke-width="1"/>
<line x1="1140.2" y1="1002.5" x2="1140.2" y2="1000.50" stroke="#1a1aff" stroke-width="1"/>
<line x1="1193.3" y1="1002.5" x2="1193.3" y2="999.00" stroke="#1a1aff" stroke-width="1"/>
<line x1="54.0" y1="1002.5" x2="1195.6" y2="1002.5" stroke="#1010ff" stroke-width="1.2"/>
<polygon points="912.8,1003.0 915.6,997.5 918.2,1003.0" fill="#1a1aff"/>
<rect x="924.6" y="1001.0" width="3.5" height="2" fill="#1a1aff"/>
</g>
</svg>
</body></html>
